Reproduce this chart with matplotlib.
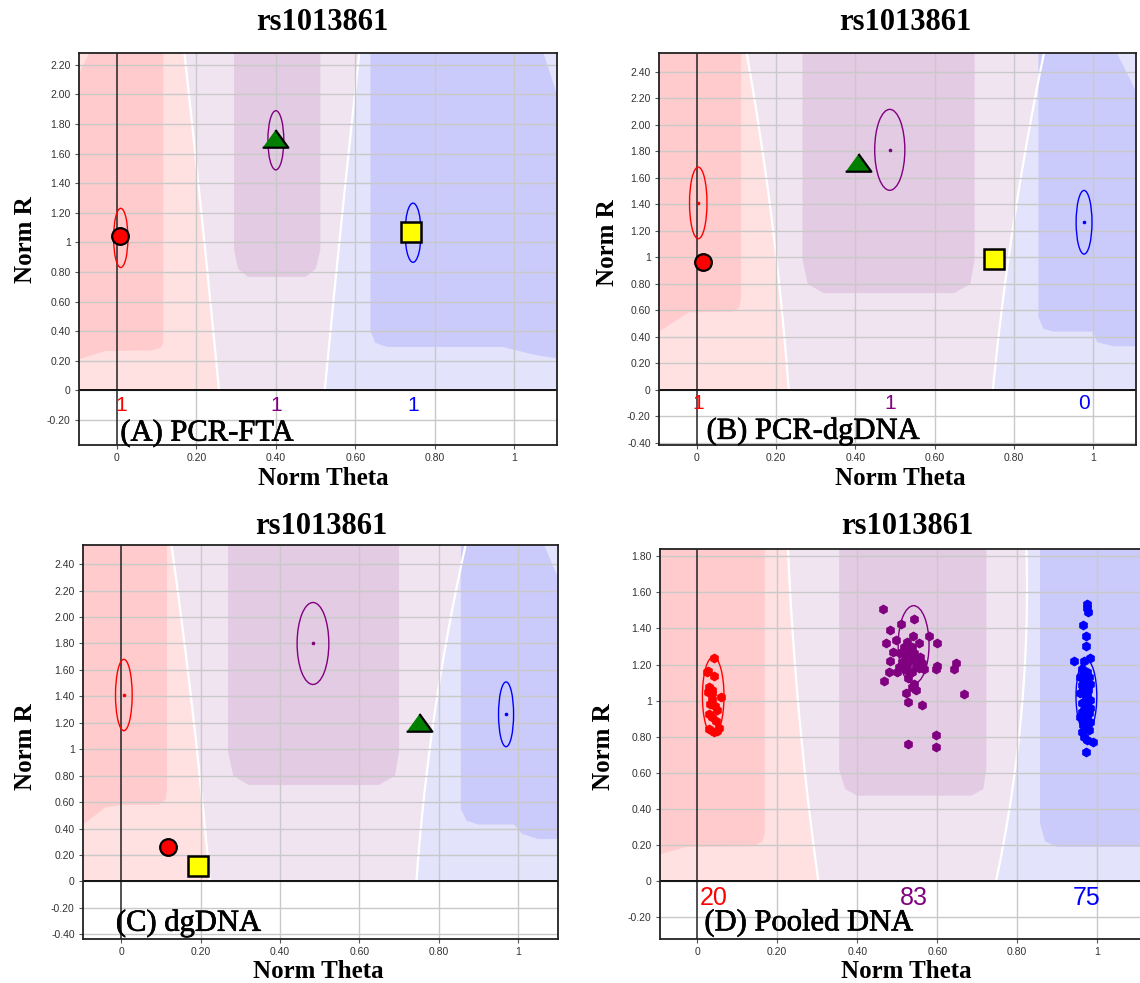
import matplotlib
matplotlib.use("Agg")
import matplotlib.pyplot as plt
import matplotlib.patheffects as pe
import numpy as np
from matplotlib.patches import Ellipse, Polygon

W, H = 1140, 983
SERIF = "Liberation Serif"
SANS = "Liberation Sans"

# ===================== CORES =====================
LIGHT_RED = "#FFE1E2"
DARK_RED = "#FFCBCC"
LIGHT_PURPLE = "#F1E4F1"
DARK_PURPLE = "#E3CBE3"
LIGHT_BLUE = "#E3E3FB"
DARK_BLUE = "#CBCBFB"
GRID = "#C9C9C9"
C_RED = "#FF0000"
C_PURPLE = "#800080"
C_BLUE = "#0000FF"

# ===================== DADOS =====================
titles = ["rs1013861", "rs1013861", "rs1013861", "rs1013861"]
labels = ["(A) PCR-FTA", "(B) PCR-dgDNA", "(C) dgDNA", "(D) Pooled DNA"]

# amostras individuais (A, B, C): circulo=AA, triangulo=AB, quadrado=BB
circ_theta = [0.007, 0.016, 0.118]
circ_r = [1.04, 0.967, 0.26]
tri_theta = [0.399, 0.407, 0.751]
tri_r = [1.70, 1.71, 1.20]
sq_theta = [0.741, 0.749, 0.192]
sq_r = [1.07, 0.99, 0.113]

# elipses dos clusters: centro theta, centro R, meia largura, meia altura  (ordem: AA, AB, BB)
a_ell = [[0.010, 1.030, 0.018, 0.20], [0.400, 1.690, 0.020, 0.20], [0.745, 1.065, 0.020, 0.20]]
b_ell = [[0.004, 1.410, 0.022, 0.27], [0.487, 1.810, 0.038, 0.305], [0.977, 1.264, 0.020, 0.24]]
c_ell = [[0.006, 1.410, 0.021, 0.27], [0.483, 1.800, 0.040, 0.31], [0.970, 1.264, 0.019, 0.245]]
d_ell = [[0.040, 1.025, 0.027, 0.217], [0.541, 1.310, 0.0386, 0.216], [0.973, 1.025, 0.026, 0.20]]

a_counts = ["1", "1", "1"]
b_counts = ["1", "1", "0"]
c_counts = ["", "", ""]
d_counts = ["20", "83", "75"]

# Pooled DNA
pool_red_theta = [0.042, 0.027, 0.042, 0.029, 0.0375, 0.027, 0.060, 0.0375, 0.033, 0.029,
                  0.0375, 0.048, 0.029, 0.042, 0.054, 0.050, 0.045, 0.036, 0.024, 0.050]
pool_red_r = [1.237, 1.167, 1.135, 1.074, 1.060, 1.047, 1.023, 1.010, 0.982, 0.927,
              0.912, 0.890, 0.844, 0.825, 0.850, 0.830, 0.970, 1.040, 1.160, 0.950]

pool_pur_theta = [0.464, 0.5425, 0.510, 0.482, 0.540, 0.579, 0.600, 0.4725, 0.496, 0.489,
                  0.517, 0.529, 0.542, 0.521, 0.533, 0.550, 0.5125, 0.525, 0.546, 0.558,
                  0.508, 0.5375, 0.5225, 0.536, 0.554, 0.483, 0.600, 0.598, 0.646, 0.642,
                  0.5675, 0.479, 0.500, 0.467, 0.5275, 0.5415, 0.546, 0.5375, 0.6675, 0.521,
                  0.5275, 0.561, 0.596, 0.5275, 0.596, 0.525, 0.554, 0.504, 0.5625, 0.531]
pool_pur_r = [1.507, 1.454, 1.424, 1.394, 1.359, 1.358, 1.322, 1.320, 1.335, 1.267,
              1.298, 1.280, 1.262, 1.252, 1.234, 1.225, 1.215, 1.197, 1.197, 1.243,
              1.262, 1.298, 1.169, 1.160, 1.179, 1.219, 1.191, 1.173, 1.210, 1.173,
              1.173, 1.160, 1.160, 1.107, 1.123, 1.095, 1.059, 1.077, 1.036, 1.040,
              0.992, 0.975, 0.811, 0.758, 0.745, 1.326, 1.317, 1.188, 1.206, 1.225]

pool_blu_theta = [0.975, 0.975, 0.9775, 0.965, 0.9725, 0.971, 0.943, 0.967, 0.983, 0.9625,
                  0.975, 0.958, 0.971, 0.983, 0.965, 0.977, 0.957, 0.971, 0.983, 0.9625,
                  0.975, 0.967, 0.979, 0.958, 0.971, 0.983, 0.965, 0.975, 0.9625, 0.967,
                  0.975, 0.990, 0.971, 0.967, 0.979, 0.9625, 0.975, 0.967, 0.982, 0.9625,
                  0.975, 0.967, 0.979]
pool_blu_r = [1.535, 1.511, 1.492, 1.418, 1.358, 1.302, 1.219, 1.221, 1.234, 1.178,
              1.160, 1.132, 1.114, 1.095, 1.077, 1.059, 1.040, 1.022, 1.003, 0.985,
              0.966, 0.948, 0.929, 0.911, 0.892, 0.883, 0.865, 0.846, 0.828, 0.800,
              0.782, 0.772, 0.717, 1.151, 1.129, 1.086, 1.031, 0.994, 0.957, 0.939,
              0.911, 0.874, 0.837]

# ===================== REGIOES DE FUNDO =====================
# fronteiras brancas: theta em R = 0, meio, topo
a_left_edge, a_right_edge = [0.257, 0.215, 0.170], [0.523, 0.565, 0.610]
b_left_edge, b_right_edge = [0.232, 0.190, 0.126], [0.747, 0.800, 0.876]
c_left_edge, c_right_edge = [0.223, 0.180, 0.126], [0.744, 0.790, 0.868]
d_left_edge, d_right_edge = [0.303, 0.255, 0.227], [0.747, 0.810, 0.823]

# nucleos escuros (theta, R)
a_red_core = [(-0.2, 0.21), (-0.095, 0.21), (-0.03, 0.265), (0.09, 0.27), (0.112, 0.29), (0.117, 0.33),
              (0.117, 5), (-0.069, 5), (-0.069, 2.28), (-0.095, 2.14), (-0.2, 2.14)]
a_pur_core = [(0.295, 5), (0.295, 0.95), (0.305, 0.82), (0.33, 0.767), (0.475, 0.767), (0.50, 0.82),
              (0.512, 0.95), (0.512, 5)]
a_blu_core = [(0.638, 5), (0.638, 0.40), (0.65, 0.32), (0.68, 0.293), (0.97, 0.293), (1.05, 0.24),
              (1.107, 0.215), (1.2, 0.215), (1.2, 2.0), (1.107, 2.0), (1.073, 2.28), (1.073, 5)]

b_red_core = [(-0.2, 0.44), (-0.095, 0.44), (-0.02, 0.585), (0.09, 0.59), (0.108, 0.62), (0.112, 0.70),
              (0.112, 5), (-0.2, 5)]
b_pur_core = [(0.267, 5), (0.267, 0.98), (0.28, 0.80), (0.32, 0.73), (0.65, 0.73), (0.69, 0.80),
              (0.701, 0.98), (0.701, 5)]
b_blu_core = [(0.862, 5), (0.862, 0.55), (0.875, 0.46), (0.90, 0.44), (1.00, 0.44), (1.01, 0.36),
              (1.05, 0.33), (1.2, 0.33), (1.2, 2.25), (1.108, 2.25), (1.06, 2.54), (1.06, 5)]

c_red_core = [(-0.2, 0.43), (-0.097, 0.43), (-0.04, 0.56), (0.0, 0.58), (0.095, 0.58), (0.112, 0.62),
              (0.115, 0.70), (0.115, 5), (-0.2, 5)]
c_pur_core = [(0.269, 5), (0.269, 0.98), (0.282, 0.80), (0.32, 0.73), (0.65, 0.73), (0.69, 0.80),
              (0.70, 0.98), (0.70, 5)]
c_blu_core = [(0.856, 5), (0.856, 0.55), (0.87, 0.46), (0.90, 0.43), (0.99, 0.43), (1.01, 0.36),
              (1.05, 0.32), (1.2, 0.32), (1.2, 2.30), (1.101, 2.30), (1.066, 2.545), (1.066, 5)]

d_red_core = [(-0.2, 0.148), (-0.093, 0.148), (-0.03, 0.19), (0.14, 0.194), (0.163, 0.22), (0.169, 0.27),
              (0.169, 5), (-0.2, 5)]
d_pur_core = [(0.355, 5), (0.355, 0.62), (0.37, 0.51), (0.40, 0.474), (0.685, 0.474), (0.715, 0.51),
              (0.723, 0.62), (0.723, 5)]
d_blu_core = [(0.857, 5), (0.857, 0.32), (0.87, 0.22), (0.90, 0.19), (1.2, 0.19), (1.2, 5)]

# ===================== LAYOUT (pixels) =====================
axes_px = [(79, 53, 557, 445), (659, 53, 1136, 445), (83, 545, 558, 939), (660, 549, 1142, 939)]
xlims = [(-0.095, 1.107), (-0.095, 1.108), (-0.097, 1.101), (-0.093, 1.112)]
ylims = [(-0.37, 2.28), (-0.415, 2.54), (-0.436, 2.545), (-0.32, 1.84)]
ytick_tops = [2.2, 2.4, 2.4, 1.8]
ytick_bottoms = [-0.2, -0.4, -0.4, -0.2]
title_px = [(322, 23), (905, 23), (321, 527), (907, 527)]
xlabel_px = [(323, 478), (900, 478), (318, 972), (906, 972)]
ylabel_px = [(25, 240), (608, 243), (25, 747), (604, 747)]
label_pos = [(0.009, -0.29), (0.025, -0.31), (-0.014, -0.315), (0.018, -0.23)]
count_y = [-0.10, -0.10, -0.10, -0.092]
count_size = [15, 15, 15, 18]


def fmt(v):
    # o software mostra 0 e 1 sem casas decimais, o resto com duas
    if abs(v) < 1e-9 or abs(v - 1) < 1e-9:
        return str(int(round(v)))
    return "%.2f" % v


def fig_rect(l, t, r, b):
    return [l / W, 1 - b / H, (r - l) / W, (b - t) / H]


def fundo(ax, xlim, ylim, left_edge, right_edge, cores):
    xmin, xmax = xlim
    ymax = ylim[1]
    rr = np.linspace(0, ymax, 60)
    r3 = [0, ymax / 2, ymax]
    le = np.polyval(np.polyfit(r3, left_edge, 2), rr)
    re_ = np.polyval(np.polyfit(r3, right_edge, 2), rr)
    ax.fill_betweenx(rr, xmin - 0.1, le, color=LIGHT_RED, lw=0, zorder=0)
    ax.fill_betweenx(rr, le, re_, color=LIGHT_PURPLE, lw=0, zorder=0)
    ax.fill_betweenx(rr, re_, xmax + 0.1, color=LIGHT_BLUE, lw=0, zorder=0)
    for pts, cor in zip(cores, [DARK_RED, DARK_PURPLE, DARK_BLUE]):
        poly = Polygon(np.array(pts), closed=True, fc=cor, ec="none", zorder=0.2)
        ax.add_patch(poly)
    ax.plot(le, rr, color="white", lw=1.6, zorder=0.3)
    ax.plot(re_, rr, color="white", lw=1.6, zorder=0.3)


fig = plt.figure(figsize=(W / 100, H / 100), dpi=100)

ells = [a_ell, b_ell, c_ell, d_ell]
counts = [a_counts, b_counts, c_counts, d_counts]
edges = [(a_left_edge, a_right_edge), (b_left_edge, b_right_edge),
         (c_left_edge, c_right_edge), (d_left_edge, d_right_edge)]
cores_all = [(a_red_core, a_pur_core, a_blu_core), (b_red_core, b_pur_core, b_blu_core),
             (c_red_core, c_pur_core, c_blu_core), (d_red_core, d_pur_core, d_blu_core)]
cl_colors = [C_RED, C_PURPLE, C_BLUE]

tri_marker = [(-1.0, -0.64), (1.0, -0.64), (0.0, 0.74)]
engrossa = [pe.withStroke(linewidth=0.5, foreground="black")]

for i in range(4):
    ax = fig.add_axes(fig_rect(*axes_px[i]))
    ax.set_xlim(*xlims[i])
    ax.set_ylim(*ylims[i])

    fundo(ax, xlims[i], ylims[i], edges[i][0], edges[i][1], cores_all[i])

    # grade
    xt = [0, 0.2, 0.4, 0.6, 0.8, 1.0]
    yt = list(np.round(np.arange(ytick_bottoms[i], ytick_tops[i] + 0.01, 0.2), 2))
    for x in xt[1:]:
        ax.axvline(x, color=GRID, lw=1.0, zorder=0.5)
    for y in yt:
        ax.axhline(y, color=GRID, lw=1.0, zorder=0.5)
    ax.axvline(0, color="#222222", lw=1.1, zorder=0.6)
    ax.axhline(0, color="#111111", lw=1.4, zorder=0.6)

    ax.set_xticks(xt)
    ax.set_xticklabels([fmt(v) for v in xt])
    ax.set_yticks(yt)
    ax.set_yticklabels([fmt(v) for v in yt])
    ax.tick_params(axis="both", labelsize=7.5, labelcolor="#333333", color="#555555",
                   length=3, width=0.8, pad=3)
    for tl in ax.get_xticklabels() + ax.get_yticklabels():
        tl.set_fontfamily(SANS)
    for sp in ax.spines.values():
        sp.set_color("#222222")
        sp.set_linewidth(1.3)

    # elipses dos clusters
    for (cx, cy, hw, hh), cor, n in zip(ells[i], cl_colors, counts[i]):
        ax.add_patch(Ellipse((cx, cy), 2 * hw, 2 * hh, fill=False, ec=cor, lw=1.0, zorder=2))
        ax.plot(cx, cy, marker="o", ms=1.6, color=cor, zorder=2)
        if n:
            ax.text(cx, count_y[i], n, color=cor, ha="center", va="center",
                    fontsize=count_size[i], family=SANS, zorder=4)

    if i < 3:
        ax.plot(circ_theta[i], circ_r[i], marker="o", ms=12, mfc="#FF0000", mec="black",
                mew=1.6, zorder=3)
        ax.plot(tri_theta[i], tri_r[i], marker=tri_marker, ms=18.5, mfc="#007F00", mec="black",
                mew=1.6, zorder=3)
        ax.plot(sq_theta[i], sq_r[i], marker="s", ms=15, mfc="#FFFF00", mec="black",
                mew=1.8, zorder=3)
    else:
        ax.plot(pool_red_theta, pool_red_r, ls="none", marker="h", ms=6, color=C_RED, zorder=3)
        ax.plot(pool_pur_theta, pool_pur_r, ls="none", marker="h", ms=6, color=C_PURPLE, zorder=3)
        ax.plot(pool_blu_theta, pool_blu_r, ls="none", marker="h", ms=6, color=C_BLUE, zorder=3)

    ax.text(label_pos[i][0], label_pos[i][1], labels[i], ha="left", va="center",
            family=SERIF, fontsize=22, color="black", zorder=5, path_effects=engrossa)

    fig.text(title_px[i][0] / W, 1 - title_px[i][1] / H, titles[i], ha="center", va="center",
             family=SERIF, fontweight="bold", fontsize=22)
    fig.text(xlabel_px[i][0] / W, 1 - xlabel_px[i][1] / H, "Norm Theta", ha="center", va="center",
             family=SERIF, fontweight="bold", fontsize=18)
    fig.text(ylabel_px[i][0] / W, 1 - ylabel_px[i][1] / H, "Norm R", ha="center", va="center",
             rotation=90, family=SERIF, fontweight="bold", fontsize=18)

fig.savefig("out.png", dpi=100)
